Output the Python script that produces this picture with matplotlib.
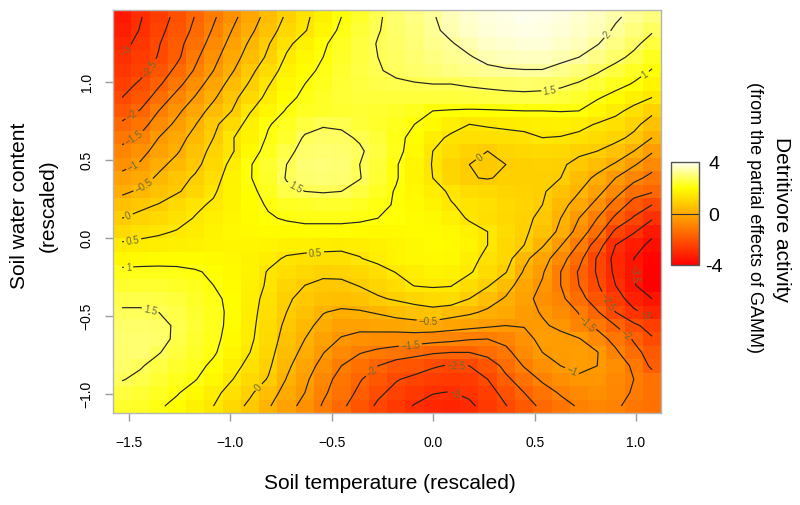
import numpy as np
import matplotlib
matplotlib.use("Agg")
import matplotlib.pyplot as plt
from matplotlib.colors import LinearSegmentedColormap, Normalize
from matplotlib.cm import ScalarMappable

plt.rcParams['font.family'] = ['Liberation Sans', 'DejaVu Sans']

x_ticks = [-1.5, -1.0, -0.5, 0.0, 0.5, 1.0]
y_ticks = [-1.0, -0.5, 0.0, 0.5, 1.0]
levels = [-3.5, -3, -2.5, -2, -1.5, -1, -0.5, 0, 0.5, 1, 1.5, 2]
x_grid = np.linspace(-1.534, 1.079, 30)
y_grid = np.linspace(1.416, -1.080, 30)   # top row first

z = np.array([
[-3.4,-3.03,-2.72,-2.37,-1.98,-1.57,-1.14,-.73,-.33,.07,.42,.7,1.0,1.22,1.45,1.65,1.8,1.97,2.15,2.3,2.4,2.47,2.5,2.48,2.42,2.32,2.2,2.05,1.9,1.75],
[-3.3,-2.97,-2.62,-2.3,-1.88,-1.45,-1.0,-.6,-.2,.2,.47,.78,1.08,1.3,1.48,1.62,1.75,1.93,2.1,2.25,2.35,2.42,2.45,2.44,2.37,2.27,2.15,1.95,1.75,1.55],
[-3.15,-2.85,-2.53,-2.15,-1.76,-1.3,-.85,-.43,-.03,.4,.7,.95,1.15,1.35,1.52,1.6,1.72,1.85,1.97,2.12,2.25,2.32,2.37,2.35,2.27,2.17,2.02,1.8,1.6,1.32],
[-2.98,-2.75,-2.47,-2.1,-1.6,-1.15,-.7,-.3,.08,.55,.8,1.0,1.2,1.35,1.5,1.58,1.68,1.78,1.88,1.97,2.1,2.18,2.22,2.22,2.12,2.0,1.82,1.62,1.4,1.12],
[-2.85,-2.65,-2.3,-1.88,-1.45,-1.0,-.55,-.12,.28,.68,.9,1.07,1.25,1.38,1.48,1.55,1.62,1.7,1.78,1.85,1.92,1.96,1.98,1.98,1.85,1.72,1.55,1.35,1.15,.98],
[-2.7,-2.42,-2.07,-1.65,-1.2,-.78,-.33,.05,.47,.8,1.0,1.13,1.27,1.36,1.42,1.46,1.48,1.5,1.5,1.54,1.57,1.6,1.62,1.6,1.57,1.46,1.3,1.13,.97,.75],
[-2.5,-2.25,-1.8,-1.35,-.97,-.57,-.13,.23,.63,.9,1.08,1.18,1.27,1.32,1.34,1.33,1.33,1.32,1.33,1.35,1.38,1.4,1.41,1.4,1.33,1.22,1.04,.87,.67,.5],
[-2.25,-1.97,-1.5,-1.1,-.73,-.33,.0,.47,.78,1.03,1.15,1.2,1.25,1.27,1.25,1.2,1.12,1.0,.97,.95,.96,.98,1.0,1.0,1.02,1.0,.8,.6,.38,.1],
[-1.92,-1.7,-1.25,-.9,-.52,-.1,.25,.67,.97,1.15,1.35,1.47,1.45,1.3,1.22,1.12,1.0,.85,.65,.5,.54,.58,.62,.65,.68,.62,.47,.35,.12,-.2],
[-1.65,-1.42,-1.0,-.68,-.35,.0,.47,.72,1.05,1.22,1.55,1.6,1.57,1.46,1.3,1.08,.92,.62,.43,.35,.35,.37,.4,.5,.48,.4,.28,.12,-.1,-.5],
[-1.37,-1.15,-.83,-.55,-.2,.12,.45,.85,1.12,1.4,1.62,1.68,1.65,1.55,1.35,1.1,.85,.5,.3,.1,.0,.15,.2,.25,.2,.07,.0,-.2,-.5,-.95],
[-1.15,-.95,-.62,-.35,-.1,.2,.62,.97,1.25,1.5,1.7,1.72,1.7,1.5,1.3,1.03,.75,.48,.12,.0,-.08,.0,.05,.08,.05,-.1,-.3,-.55,-.95,-1.3],
[-.85,-.7,-.42,-.15,.05,.32,.72,.98,1.2,1.53,1.65,1.7,1.67,1.52,1.27,1.03,.75,.5,.15,.02,-.02,.05,.05,.05,.0,-.3,-.6,-1.0,-1.35,-1.65],
[-.6,-.42,-.22,-.05,.18,.45,.72,.92,1.12,1.4,1.5,1.53,1.5,1.35,1.15,.97,.8,.62,.45,.3,.22,.15,.1,.05,-.2,-.48,-.85,-1.3,-1.8,-1.95],
[-.25,-.1,.02,.25,.43,.55,.72,.9,1.03,1.15,1.2,1.25,1.22,1.15,1.05,.98,.85,.72,.52,.42,.35,.22,.12,.0,-.35,-.7,-1.15,-1.7,-2.2,-2.5],
[.0,.12,.22,.38,.52,.65,.78,.88,.97,1.03,1.07,1.07,1.07,1.05,1.0,.97,.87,.82,.68,.45,.33,.2,.1,-.1,-.5,-1.0,-1.5,-2.1,-2.55,-2.95],
[.25,.38,.45,.52,.6,.72,.8,.85,.87,.88,.9,.9,.9,.88,.85,.85,.87,.88,.8,.67,.5,.28,.08,-.22,-.6,-1.2,-1.8,-2.6,-2.95,-3.4],
[.58,.6,.62,.65,.7,.75,.78,.78,.75,.68,.65,.62,.6,.62,.68,.75,.82,.87,.85,.75,.5,.2,.0,-.45,-.97,-1.55,-2.25,-3.0,-3.35,-3.6],
[.8,.85,.87,.88,.87,.85,.8,.72,.62,.45,.4,.38,.38,.48,.62,.75,.8,.85,.82,.65,.38,.2,-.38,-.78,-1.3,-1.85,-2.55,-3.15,-3.5,-3.8],
[1.1,1.1,1.1,1.08,1.03,.95,.85,.72,.47,.32,.19,.1,.12,.2,.33,.52,.62,.72,.7,.55,.28,.02,-.55,-.95,-1.5,-2.05,-2.55,-3.1,-3.5,-3.85],
[1.25,1.25,1.24,1.2,1.12,1.0,.87,.7,.44,.14,.0,-.1,-.1,.02,.15,.3,.52,.55,.52,.28,.04,-.3,-.75,-1.05,-1.5,-2.0,-2.45,-3.0,-3.45,-3.9],
[1.42,1.42,1.38,1.32,1.2,1.07,.92,.65,.37,.05,-.1,-.25,-.28,-.2,-.05,.05,.15,.25,.28,.0,-.28,-.55,-.85,-1.15,-1.4,-1.8,-2.3,-2.75,-3.25,-3.5],
[1.54,1.54,1.5,1.4,1.25,1.1,.93,.62,.33,.0,-.2,-.48,-.58,-.55,-.45,-.3,-.2,-.15,-.3,-.42,-.58,-.72,-.92,-1.02,-1.25,-1.52,-1.95,-2.5,-2.9,-3.2],
[1.62,1.62,1.6,1.45,1.28,1.12,.9,.6,.28,-.1,-.38,-.63,-.85,-.85,-.8,-.77,-.72,-.7,-.78,-.85,-.93,-1.0,-.98,-.97,-1.05,-1.4,-1.6,-2.0,-2.4,-2.7],
[1.67,1.68,1.62,1.43,1.26,1.1,.85,.57,.25,-.2,-.5,-.82,-1.03,-1.17,-1.22,-1.25,-1.25,-1.32,-1.38,-1.47,-1.5,-1.37,-1.12,-.9,-.93,-.97,-1.3,-1.65,-2.05,-2.45],
[1.66,1.68,1.52,1.35,1.2,1.05,.78,.5,.17,-.3,-.62,-.98,-1.3,-1.47,-1.6,-1.7,-1.85,-1.95,-2.0,-2.0,-1.83,-1.62,-1.25,-1.0,-.93,-.9,-.98,-1.42,-1.85,-2.2],
[1.62,1.53,1.38,1.22,1.12,.92,.65,.38,.08,-.4,-.78,-1.15,-1.5,-1.76,-2.0,-2.25,-2.3,-2.45,-2.55,-2.5,-2.3,-1.85,-1.47,-1.15,-1.0,-.93,-1.0,-1.18,-1.6,-2.1],
[1.52,1.42,1.27,1.13,1.02,.8,.52,.24,-.03,-.52,-.9,-1.33,-1.66,-1.96,-2.25,-2.47,-2.6,-2.72,-2.8,-2.75,-2.5,-2.1,-1.75,-1.43,-1.2,-1.05,-1.05,-1.3,-1.5,-1.75],
[1.35,1.28,1.15,1.03,.85,.62,.34,.07,-.28,-.67,-1.0,-1.42,-1.75,-2.1,-2.42,-2.62,-2.82,-2.98,-3.02,-2.9,-2.7,-2.33,-2.0,-1.7,-1.45,-1.3,-1.2,-1.32,-1.55,-1.72],
[1.22,1.17,1.05,.9,.7,.5,.2,-.1,-.45,-.82,-1.15,-1.55,-1.9,-2.27,-2.57,-2.8,-3.03,-3.15,-3.2,-3.1,-2.8,-2.52,-2.2,-1.9,-1.67,-1.45,-1.35,-1.43,-1.65,-1.75],
])

heat = LinearSegmentedColormap.from_list(
    'heat', [(0, '#ff0000'), (0.75, '#ffff00'), (1, '#fffff2')], N=256)

W, H = 800, 506
fig = plt.figure(figsize=(W / 100, H / 100), dpi=100)
ax = fig.add_axes([113 / W, 1 - 414 / H, 548 / W, 403 / H])
GREY = '#9a9a9a'

dx = x_grid[1] - x_grid[0]
dy = y_grid[0] - y_grid[1]
ax.imshow(z, cmap=heat, norm=Normalize(-3.9, 2.55), aspect='auto', interpolation='nearest',
          extent=[x_grid[0] - dx / 2, x_grid[-1] + dx / 2, y_grid[-1] - dy / 2, y_grid[0] + dy / 2])
cs = ax.contour(x_grid, y_grid, z, levels=levels, colors='#222222', linewidths=0.85, linestyles='solid')


def lab(v):
    return f'{v:g}'.replace('-', '\u2212')


def pos(px, py):
    return ((px - 433) / 203, (238.7 - py) / 155.9)


label_px = [(128, 53), (150, 70), (132, 117), (133, 138), (132, 166), (142, 185), (128, 217),
            (132, 241), (128, 268), (150, 310), (258, 388), (296, 186), (315, 252), (428, 321),
            (410, 346), (456, 369), (455, 393), (372, 373), (570, 376), (588, 323), (625, 336),
            (607, 303), (644, 316), (632, 273), (607, 35), (550, 92), (645, 75), (478, 156)]
tl = ax.clabel(cs, manual=[pos(*p) for p in label_px], fmt=lab, fontsize=7, inline=True,
               inline_spacing=2, colors='#6b6b3a')

ax.set_xlim(-1.579, 1.123)
ax.set_ylim((238.7 - 414) / 155.9, (238.7 - 11) / 155.9)
ax.set_xticks(x_ticks)
ax.set_yticks(y_ticks)
ax.set_xticklabels([f'{v:.1f}'.replace('-', '\u2212') for v in x_ticks])
ax.set_yticklabels([f'{v:.1f}'.replace('-', '\u2212') for v in y_ticks], rotation=90, va='center')
ax.tick_params(axis='both', length=5.8, width=1.0, color=GREY, labelsize=10, labelcolor='black')
ax.tick_params(axis='x', pad=10)
ax.tick_params(axis='y', pad=8)
for s in ax.spines.values():
    s.set_color('#b5b5b5')
    s.set_linewidth(1.0)

fig.text(390 / W, 1 - 484 / H, 'Soil temperature (rescaled)', ha='center', va='center', fontsize=15)
fig.text(20 / W, 1 - 206 / H, 'Soil water content', ha='center', va='center', rotation=90, fontsize=15)
fig.text(48 / W, 1 - 206 / H, '(rescaled)', ha='center', va='center', rotation=90, fontsize=15)
fig.text(781 / W, 1 - 220 / H, 'Detritivore activity', ha='center', va='center', rotation=270, fontsize=15)
fig.text(755 / W, 1 - 218 / H, '(from the partial effects of GAMM)', ha='center', va='center', rotation=270, fontsize=13)

cax = fig.add_axes([671 / W, 1 - 266 / H, 27.5 / W, 103 / H])
cb = fig.colorbar(ScalarMappable(Normalize(-4, 4), heat), cax=cax, ticks=[-4, 0, 4])
cb.ax.set_yticklabels(['-4', '0', '4'], fontsize=14, ha='center')
cb.ax.tick_params(length=0, pad=11)
cb.ax.axhline(0, color='#333333', lw=0.8)
cb.outline.set_edgecolor('#555555')
cb.outline.set_linewidth(1.0)

fig.savefig('out.png', dpi=100)
